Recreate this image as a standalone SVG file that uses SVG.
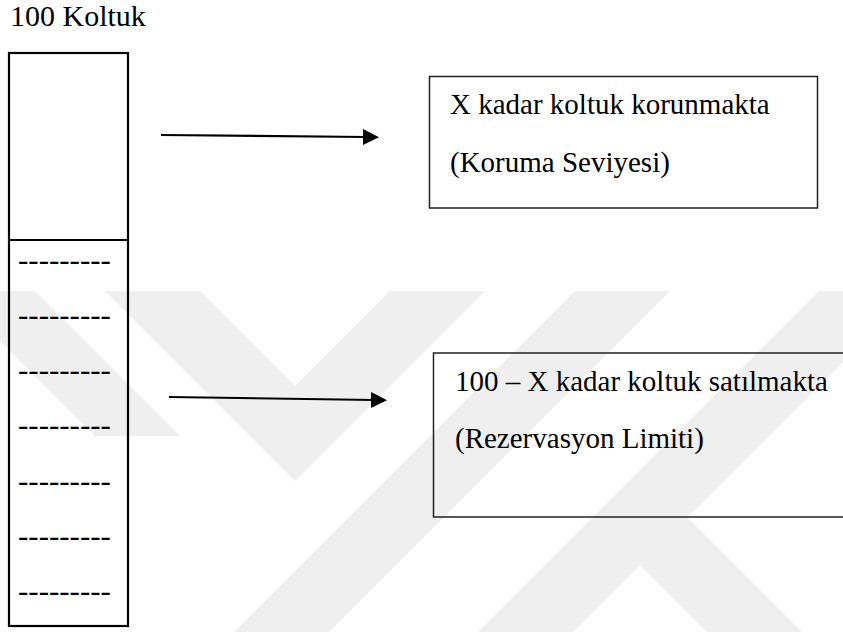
<svg xmlns="http://www.w3.org/2000/svg" width="843" height="632" viewBox="0 0 843 632">
<defs>
<style>
.t{font-family:"Liberation Serif","Times New Roman",serif;font-size:29px;fill:#000}
.title{font-family:"Liberation Serif","Times New Roman",serif;font-size:30px;fill:#000}
.dash{font-family:"Liberation Serif","Times New Roman",serif;font-size:31px;fill:#000}
.box{fill:none;stroke:#222;stroke-width:1.5}
.col{fill:none;stroke:#000;stroke-width:2.2}
.conn{stroke:#000;stroke-width:2.2;fill:none;marker-end:url(#ah)}
.wm{fill:#efefef}
</style>
<marker id="ah" markerUnits="userSpaceOnUse" markerWidth="18" markerHeight="18" refX="3" refY="8" orient="auto"><path d="M0,0 L16,8 L0,16 Z" fill="#000"/></marker>
<clipPath id="wmclip"><rect x="0" y="291" width="843" height="341"/></clipPath>
</defs>
<rect width="843" height="632" fill="#fff"/>
<g id="watermark" clip-path="url(#wmclip)">
<polygon class="wm" points="105,291 200,291 295,386 390,291 485,291 295,481"/>
<polygon class="wm" points="-50,291 35,291 180,436 95,436"/>
<polygon class="wm" points="575,291 670,291 329,632 234,632"/>
<polygon class="wm" points="819,291 914,291 573,632 478,632"/>
<polygon class="wm" points="687.5,517.5 802,632 707,632 640,565"/>
</g>
<text class="title" x="10" y="25.5">100 Koltuk</text>
<g id="seats">
<rect class="col" x="9" y="53" width="119" height="573"/>
<line class="col" x1="9" y1="240" x2="128" y2="240"/>
<text class="dash" x="18" y="269.5">---------</text>
<text class="dash" x="18" y="324.5">---------</text>
<text class="dash" x="18" y="379.5">---------</text>
<text class="dash" x="18" y="435">---------</text>
<text class="dash" x="18" y="490.5">---------</text>
<text class="dash" x="18" y="545.5">---------</text>
<text class="dash" x="18" y="600.5">---------</text>
</g>
<g id="protect">
<rect class="box" x="429.5" y="76.5" width="388" height="131.5"/>
<text class="t" x="450" y="114">X kadar koltuk korunmakta</text>
<text class="t" x="450" y="172">(Koruma Seviyesi)</text>
</g>
<g id="limit">
<rect class="box" x="433.5" y="353" width="430" height="164"/>
<text class="t" x="455" y="391">100 – X kadar koltuk satılmakta</text>
<text class="t" x="455" y="448">(Rezervasyon Limiti)</text>
</g>
<g id="connectors">
<line class="conn" x1="161" y1="135" x2="366" y2="137"/>
<line class="conn" x1="169" y1="397" x2="374" y2="400"/>
</g>
</svg>
